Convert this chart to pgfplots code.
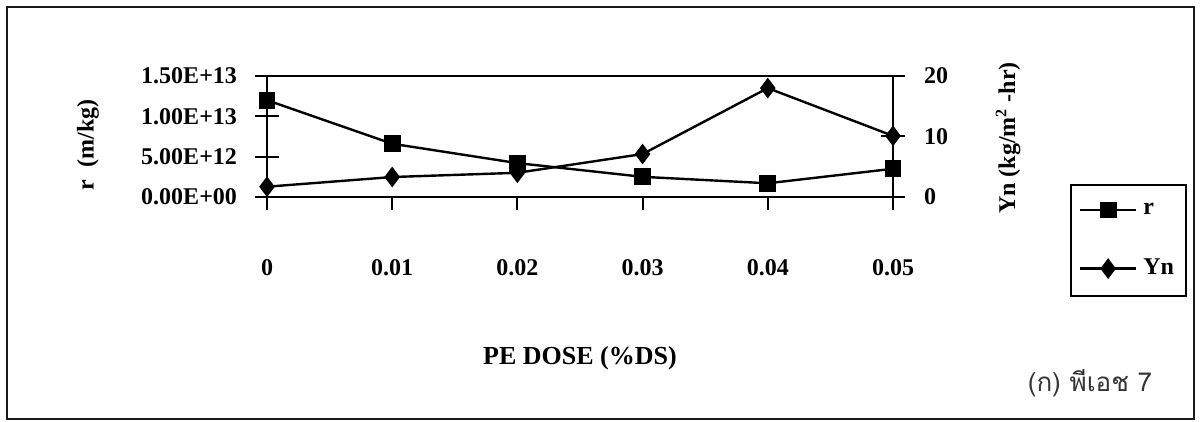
\documentclass[border=0pt]{standalone}
\usepackage{fontspec}
\setmainfont{Liberation Serif}
\newfontfamily\thaifont[Script=Thai]{Loma}
\usepackage{pgfplots}
\pgfplotsset{compat=1.18}
\begin{document}
\begin{tikzpicture}[x=1pt,y=1pt]
\path (0,0) rectangle (600,211);
\draw[line width=1.1pt, black!90] (3.5,1.5) rectangle (597,207.5);
\pgfplotsset{
  common/.style={
    at={(133.5pt,112.5pt)}, anchor=south west,
    scale only axis, width=313pt, height=60.5pt,
    xmin=0, xmax=5, clip=false,
    axis line style={line width=1pt, black},
    every tick/.style={line width=1pt, black},
  },
  serieslook/.style={line width=1.2pt, black},
}
% Axis A: left y axis, box, r series
\begin{axis}[common,
  ymin=0, ymax=1.5e13,
  scaled y ticks=false,
  xtick=\empty,
  ytick={0,5e12,1e13,1.5e13},
  yticklabels={0.00E+00,5.00E+12,1.00E+13,1.50E+13},
  ytick pos=left,
  tick align=center, major tick length=12pt,
  yticklabel style={font=\bfseries\fontsize{12}{13}\selectfont, anchor=east, xshift=-5.5pt},
  ylabel={r\ \ (m/kg)},
  ylabel style={font=\bfseries\fontsize{12}{13}\selectfont, at={(axis description cs:-0.286,0.43)}, anchor=center},
]
\addplot[serieslook, mark=square*, mark size=3.6pt] coordinates {
  (0,1.20e13) (1,6.6e12) (2,4.2e12) (3,2.5e12) (4,1.7e12) (5,3.5e12)};
\end{axis}
% Axis B: right y axis, Yn series, legend
\begin{axis}[common,
  ymin=0, ymax=20,
  axis x line=none, axis y line*=right,
  ytick={0,10,20}, yticklabels={0,10,20},
  tick align=center, major tick length=12pt,
  yticklabel style={font=\bfseries\fontsize{12}{13}\selectfont, anchor=west, xshift=6pt},
  ylabel={Yn (kg/m\textsuperscript{2} -hr)},
  ylabel style={font=\bfseries\fontsize{12}{13}\selectfont, at={(axis description cs:1.1837,0.488)}, anchor=center},
  legend style={at={(axis description cs:1.2827,-0.826)}, anchor=south west,
    draw=black, line width=1pt, font=\bfseries\fontsize{12}{13}\selectfont,
    inner xsep=4pt, inner ysep=7pt, legend cell align=left,
    /tikz/row sep=17pt,
    /tikz/every odd column/.append style={column sep=1pt}},
  legend image code/.code={\draw[mark repeat=2,mark phase=2] plot coordinates {(0pt,0pt)(14pt,0pt)(28pt,0pt)};},
]
\addlegendimage{serieslook, mark=square*, mark size=3.6pt}
\addlegendentry{r}
\addplot[serieslook, mark=diamond*, mark size=4.2pt] coordinates {
  (0,1.7) (1,3.3) (2,4.0) (3,7.1) (4,18.0) (5,10.1)};
\addlegendentry{Yn}
\end{axis}
% Axis C: x ticks and label
\begin{axis}[common,
  ymin=0, ymax=1,
  axis y line=none, axis x line*=bottom,
  xtick={0,1,2,3,4,5},
  xticklabels={0,0.01,0.02,0.03,0.04,0.05},
  tick align=outside, major tick length=6.5pt,
  xticklabel style={font=\bfseries\fontsize{12}{13}\selectfont, yshift=-21pt},
  xlabel={PE DOSE (\%DS)},
  xlabel style={font=\bfseries\fontsize{13}{14}\selectfont, at={(axis description cs:0.5,-1.33)}, anchor=center},
]
\end{axis}
\node[font=\thaifont\fontsize{13}{15}\selectfont, text=black!80] at (545,19.5) {(ก) พีเอช 7};
\end{tikzpicture}
\end{document}
